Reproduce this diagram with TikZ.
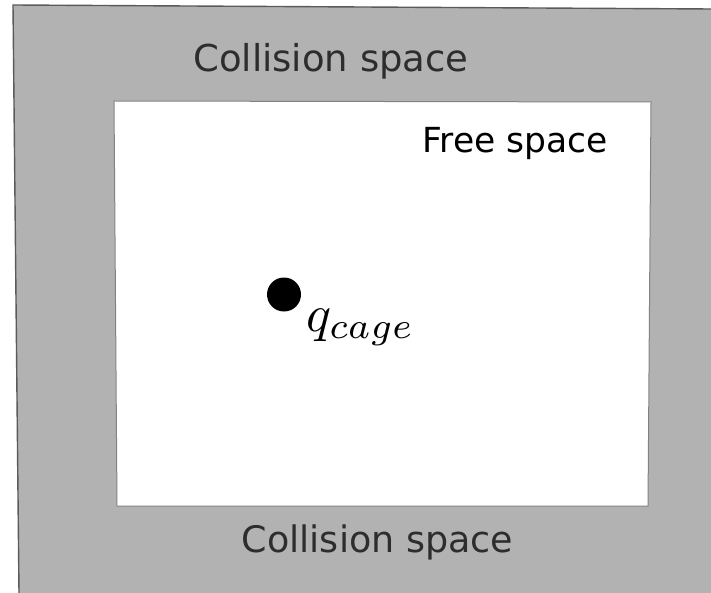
\documentclass[tikz,border=0pt]{standalone}
\usepackage{graphicx}
\usepackage{fontspec}
\newfontfamily\labelfont{DejaVu Sans}
\definecolor{collgray}{RGB}{178,178,178}
\definecolor{edgegray}{RGB}{90,90,90}
\definecolor{inneredge}{RGB}{130,130,130}
\definecolor{labgray}{RGB}{45,45,45}
\tikzset{
  region/.style={inner sep=0pt, anchor=base},
  colltext/.style={region, text=labgray, font=\labelfont\fontsize{37}{40}\selectfont},
  freetext/.style={region, text=black, font=\labelfont\fontsize{34.5}{38}\selectfont},
  cfgdot/.style={circle, fill=black, inner sep=0pt, minimum size=34pt}
}
\begin{document}
\begin{tikzpicture}[x=1pt,y=-1pt]
\useasboundingbox (0,0) rectangle (711,593);
% collision space (outer grey)
\fill[collgray] (13,5) -- (711,9) -- (711,593) -- (19,593) -- cycle;
\draw[edgegray, line width=1.4pt] (711,9) -- (13,5) -- (19,593);
% free space (inner white)
\draw[inneredge, line width=1pt, fill=white] (114,101) -- (651,102) -- (648,506) -- (117,506) -- cycle;
% labels
\node[colltext] (ctop) at (331,72) {Collision space};
\node[colltext, font=\labelfont\fontsize{36.5}{40}\selectfont] (cbot) at (377.5,552) {Collision space};
\node[freetext] (free) at (515,153) {Free space};
% configuration
\node[cfgdot] (q) at (284,294.5) {};
\node[inner sep=0pt, anchor=base west] (qlab) at (306,331) {\scalebox{5.2}{$q_{cage}$}};
\end{tikzpicture}
\end{document}
